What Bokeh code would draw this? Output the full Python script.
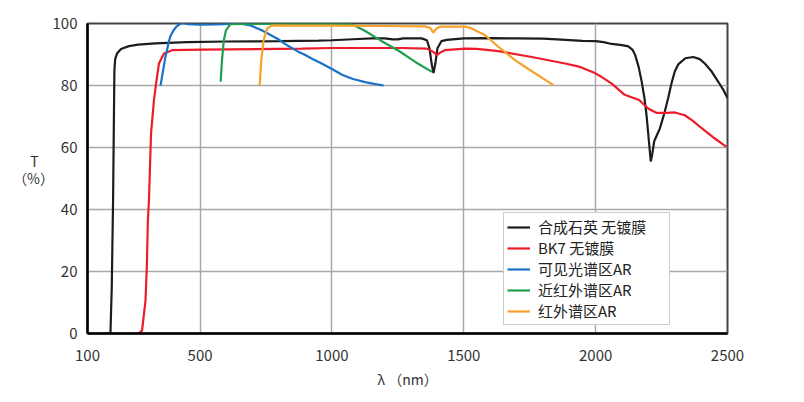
from bokeh.plotting import figure
from bokeh.models import FixedTicker, Legend, LegendItem, Label
from bokeh.embed import file_html
from bokeh.resources import INLINE

# ---- data (wavelength nm, transmittance %) ----
fs_x = [140, 160, 165, 170, 175, 178, 185, 200, 230, 265, 330, 450, 600, 800, 950, 1000,
        1100, 1150, 1200, 1230, 1250, 1270, 1340, 1360, 1370, 1378, 1385, 1392, 1400, 1415,
        1436, 1500, 1600, 1700, 1800, 1870, 1950, 2000, 2030, 2061, 2100, 2124, 2140, 2150,
        2163, 2174, 2185, 2193, 2202, 2209, 2215, 2222, 2235, 2243, 2262, 2275, 2288, 2300,
        2313, 2340, 2370, 2395, 2414, 2440, 2465, 2485, 2500]
fs_t = [0, 0, 15, 43, 85, 88.5, 90.3, 91.8, 92.7, 93.2, 93.6, 94.0, 94.2, 94.3, 94.5, 94.6,
        95.0, 95.2, 95.2, 94.9, 94.9, 95.2, 95.2, 94.6, 92, 87, 84, 87, 92, 94.3,
        94.7, 95.2, 95.3, 95.2, 95.1, 94.8, 94.4, 94.3, 94.0, 93.4, 93.0, 92.6, 91.5, 89.8,
        86, 81.5, 76, 70.4, 62, 55.5, 58, 62, 64.5, 66, 71.5, 76, 80.8, 84.5,
        86.8, 88.8, 89.2, 88.5, 87.1, 84.5, 81.2, 78.5, 76]

bk7_x = [240, 268, 280, 293, 298, 302, 306, 314, 325, 333, 344, 363, 394, 508, 886, 1000,
         1265, 1360, 1385, 1398, 1410, 1428, 1505, 1550, 1631, 1758, 1884, 1941, 1997, 2022,
         2061, 2110, 2165, 2199, 2230, 2270, 2300, 2338, 2370, 2401, 2452, 2496]
bk7_t = [0, 0, 1, 10.7, 21.5, 36.5, 43, 64.6, 75.3, 80.6, 87.1, 90.3, 91.4, 91.6, 91.9, 92.1,
         92.1, 91.9, 90.8, 89.8, 90.6, 91.4, 91.9, 91.8, 91.1, 89.2, 87.1, 86, 84, 82.8,
         80.6, 77, 75.3, 72.6, 71.2, 71.2, 71.3, 70.4, 68.5, 66.3, 62.9, 60.2]

vis_x = [350, 356, 362, 368, 375, 381, 387, 397, 410, 425, 435, 455, 500, 560, 620, 660,
         690, 732, 760, 795, 833, 870, 897, 930, 959, 1000, 1040, 1080, 1126, 1160, 1196]
vis_t = [80, 83, 86, 89, 91.6, 94, 95.8, 97.5, 99, 99.9, 100.2, 99.8, 99.6, 99.7, 99.9, 99.9,
         99.4, 97.9, 96.6, 95, 92.8, 91, 89.9, 88.4, 87.2, 85.3, 83.4, 82.1, 81.1, 80.5, 80]

nir_x = [578, 583, 590, 598, 615, 700, 800, 900, 1000, 1063, 1082, 1126, 1189, 1253, 1316, 1379]
nir_t = [81.2, 88.2, 94.6, 97.8, 99.8, 99.9, 99.9, 99.9, 99.9, 99.8, 99.5, 97.6, 94.3, 91.2, 87.6, 84.4]

ir_x = [726, 732, 741, 754, 773, 850, 1000, 1200, 1353, 1372, 1385, 1395, 1410, 1505, 1525,
        1543, 1581, 1631, 1694, 1758, 1800, 1840]
ir_t = [80.1, 88.2, 94.6, 98.4, 99.4, 99.3, 99.3, 99.2, 99.1, 98.6, 97.1, 98.3, 99, 99, 98.6,
        97.8, 96.2, 92.5, 88.2, 84.6, 82.3, 80.1]

series_names = ["合成石英 无镀膜", "BK7 无镀膜", "可见光谱区AR", "近红外谱区AR", "红外谱区AR"]
series_colors = ["#1c1c1c", "#ec1c2a", "#1a72c6", "#1fa04c", "#f6a12a"]

x_ticks = [73, 500, 1000, 1500, 2000, 2500]
x_tick_labels = {73: "100"}
y_ticks = [0, 20, 40, 60, 80, 100]

FONT = "Noto Sans CJK SC"

p = figure(frame_width=640, frame_height=310, x_range=(73, 2500), y_range=(0, 100),
           output_backend="svg", toolbar_location=None,
           min_border_left=86, min_border_top=23, min_border_right=50, min_border_bottom=58)
p.background_fill_color = "white"
p.border_fill_color = "white"
p.outline_line_color = "#444444"
p.outline_line_width = 2

xs_all = [fs_x, bk7_x, vis_x, nir_x, ir_x]
ts_all = [fs_t, bk7_t, vis_t, nir_t, ir_t]
renderers = []
for xs, ts, c in zip(xs_all, ts_all, series_colors):
    r = p.line(xs, ts, line_color=c, line_width=2.2)
    renderers.append(r)

p.xaxis.ticker = FixedTicker(ticks=x_ticks)
p.xaxis.major_label_overrides = x_tick_labels
p.yaxis.ticker = FixedTicker(ticks=y_ticks)
p.xgrid.ticker = FixedTicker(ticks=x_ticks[1:])
p.ygrid.ticker = FixedTicker(ticks=y_ticks)

for g in (p.xgrid, p.ygrid):
    g.grid_line_color = "#a8a8a8"
    g.grid_line_width = 1.5

for ax in (p.xaxis, p.yaxis):
    ax.axis_line_color = "black"
    ax.axis_line_width = 2.5
    ax.major_tick_out = 0
    ax.major_tick_in = 0
    ax.minor_tick_out = 0
    ax.minor_tick_in = 0
    ax.major_label_text_font = FONT
    ax.major_label_text_font_size = "15px"
    ax.major_label_text_color = "#333333"
    ax.axis_label_text_font = FONT
    ax.axis_label_text_font_size = "14px"
    ax.axis_label_text_font_style = "normal"
    ax.axis_label_text_color = "#333333"

p.xaxis.major_label_standoff = 16
p.yaxis.major_label_standoff = 10
p.xaxis.axis_label = "λ （nm）"
p.xaxis.axis_label_standoff = 5

# y-axis title as two stacked lines, placed in left side panels (outside the frame)
for txt, sx, sy in (("T", -7, 173), ("（%）", 33, 156)):
    p.add_layout(Label(x=sx, y=sy, x_units="screen", y_units="screen", text=txt,
                       text_align="center", text_baseline="middle",
                       text_font=FONT, text_font_size="14px", text_color="#333333"), "left")

items = [LegendItem(label=n, renderers=[r]) for n, r in zip(series_names, renderers)]
legend = Legend(items=items, location=(416, 8))
legend.label_text_font = FONT
legend.label_text_font_size = "15px"
legend.label_text_color = "#222222"
legend.label_height = 20
legend.label_width = 128
legend.glyph_height = 20
legend.glyph_width = 23
legend.label_standoff = 8
legend.spacing = 0
legend.padding = 3
legend.margin = 0
legend.border_line_color = "#999999"
legend.border_line_width = 1
legend.background_fill_alpha = 1.0
p.add_layout(legend)

open("out.html", "w").write(file_html(p, INLINE))
